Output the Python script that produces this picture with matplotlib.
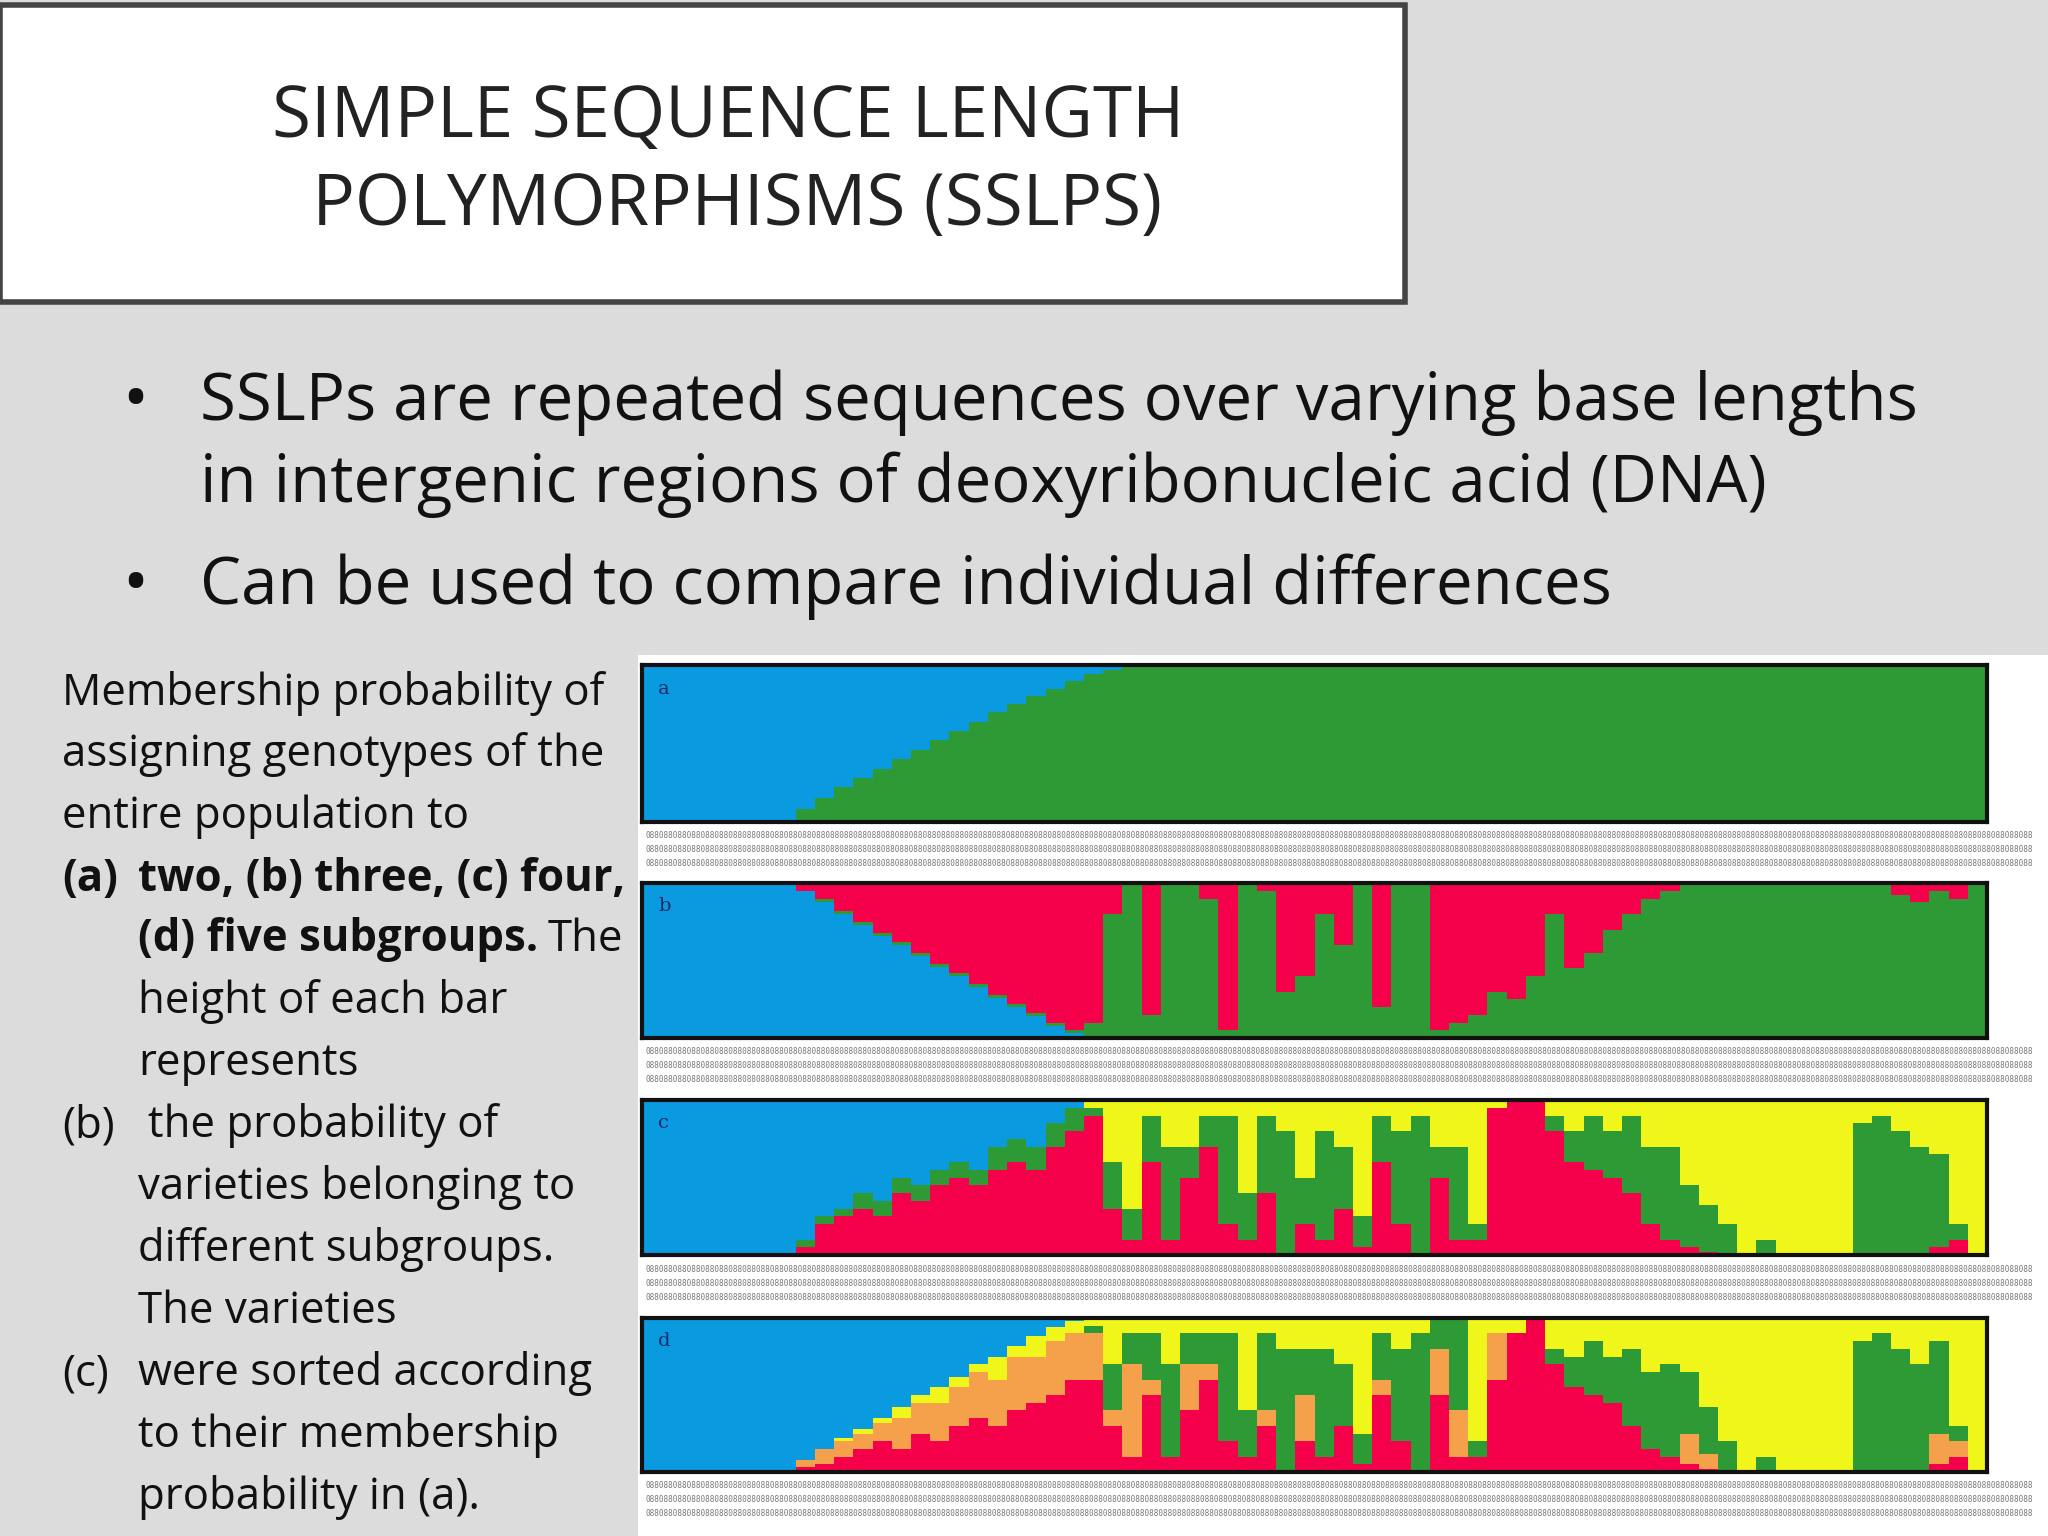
import matplotlib
matplotlib.use('Agg')
import matplotlib.pyplot as plt
from matplotlib.patches import Rectangle
import numpy as np

W, H = 2048, 1536
FONT = 'Open Sans'

# membership fractions per variety (70 sorted varieties)
a_blue = [1]*8 + [0.92, 0.85, 0.78, 0.72, 0.66, 0.6, 0.54, 0.48, 0.42, 0.36, 0.3, 0.25,
                  0.2, 0.15, 0.1, 0.06, 0.03, 0.01] + [0]*44

b_blue = [1]*8 + [0.95, 0.88, 0.8, 0.73, 0.66, 0.6, 0.53, 0.46, 0.4, 0.33, 0.26, 0.2,
                  0.14, 0.08, 0.03] + [0]*47
b_red = [0]*8 + [0.05, 0.1, 0.18, 0.25, 0.32, 0.38, 0.45, 0.52, 0.58, 0.65, 0.72, 0.78,
                 0.84, 0.9, 0.95] \
    + [0.9, 0.2, 0.0, 0.85, 0.0, 0.0, 0.1, 0.95, 0.0, 0.05, 0.7, 0.6, 0.2, 0.4, 0.0, 0.8,
       0.0, 0.0, 0.95, 0.9, 0.85, 0.7, 0.75, 0.6, 0.2] \
    + [0.55, 0.45, 0.3, 0.2, 0.1, 0.05, 0, 0, 0, 0, 0, 0, 0, 0, 0, 0, 0, 0.08, 0.12, 0.05, 0.1, 0]

c_blue = [1]*8 + [0.9, 0.75, 0.7, 0.6, 0.65, 0.5, 0.55, 0.45, 0.4, 0.45, 0.3, 0.25, 0.3,
                  0.15, 0.05] + [0]*47
c_red = [0]*8 + [0.05, 0.2, 0.25, 0.3, 0.25, 0.4, 0.35, 0.45, 0.5, 0.45, 0.55, 0.6, 0.55,
                 0.7, 0.8] \
    + [0.9, 0.3, 0.1, 0.6, 0.1, 0.5, 0.7, 0.2, 0.1, 0.4, 0.0, 0.2, 0.1, 0.3, 0.05, 0.6, 0.2,
       0.0, 0.5, 0.1, 0.1, 0.95, 1.0, 1.0, 0.8, 0.6, 0.55, 0.5, 0.4, 0.2, 0.1, 0.05,
       0.02, 0, 0, 0, 0, 0, 0, 0, 0, 0, 0, 0, 0.05, 0.1, 0]
c_green = [0]*8 + [0.05, 0.05, 0.05, 0.1, 0.1, 0.1, 0.1, 0.1, 0.1, 0.1, 0.15, 0.15, 0.15,
                   0.15, 0.15] \
    + [0.05, 0.3, 0.2, 0.3, 0.6, 0.2, 0.2, 0.7, 0.3, 0.5, 0.8, 0.3, 0.7, 0.4, 0.2, 0.3, 0.6,
       0.9, 0.2, 0.6, 0.1, 0.0, 0, 0, 0.1, 0.2, 0.35, 0.3, 0.5, 0.5, 0.6, 0.4,
       0.3, 0.2, 0, 0.1, 0, 0, 0, 0, 0.85, 0.9, 0.8, 0.7, 0.6, 0.1, 0.0]

d_blue = [1]*8 + [0.92, 0.85, 0.78, 0.72, 0.65, 0.58, 0.5, 0.45, 0.38, 0.3, 0.25, 0.18,
                  0.12, 0.06, 0.02] + [0]*47
d_red = [0]*8 + [0.03, 0.05, 0.1, 0.15, 0.2, 0.15, 0.25, 0.2, 0.3, 0.35, 0.3, 0.4, 0.45,
                 0.5, 0.6] \
    + [0.6, 0.3, 0.1, 0.5, 0.1, 0.4, 0.6, 0.2, 0.1, 0.3, 0.0, 0.2, 0.1, 0.3, 0.05, 0.5, 0.2,
       0.0, 0.5, 0.1, 0.1, 0.6, 0.9, 1.0, 0.7, 0.55, 0.5, 0.45, 0.3, 0.15, 0.1, 0.05,
       0.02, 0, 0, 0, 0, 0, 0, 0, 0, 0, 0, 0, 0.05, 0.1, 0]
d_orange = [0]*8 + [0.05, 0.1, 0.1, 0.1, 0.12, 0.2, 0.2, 0.25, 0.25, 0.3, 0.3, 0.35, 0.3,
                    0.35, 0.3] \
    + [0.3, 0.1, 0.6, 0.1, 0.0, 0.3, 0.1, 0, 0, 0.1, 0, 0.3, 0, 0, 0, 0.1, 0, 0, 0.3, 0.3, 0,
       0.3, 0, 0, 0, 0, 0, 0, 0, 0, 0, 0.2, 0.1, 0, 0, 0, 0, 0, 0, 0,
       0, 0, 0, 0, 0.2, 0.1, 0]
d_green = [0]*8 + [0.0]*15 + c_green[23:]

BLUE, GREEN, RED, YELLOW, ORANGE = '#0a9ae0', '#2e9a35', '#f5004a', '#f0f51a', '#f5a04a'


def rest(*parts):
    return list(np.clip(1 - np.sum(parts, axis=0), 0, 1))


panels = [
    ('a', [(rest(a_blue), GREEN), (a_blue, BLUE)], 665, 822),
    ('b', [(b_blue, BLUE), (rest(b_blue, b_red), GREEN), (b_red, RED)], 883, 1038),
    ('c', [(c_red, RED), (c_green, GREEN), (rest(c_red, c_green, c_blue), YELLOW), (c_blue, BLUE)], 1100, 1255),
    ('d', [(d_red, RED), (d_orange, ORANGE), (d_green, GREEN),
           (rest(d_red, d_orange, d_green, d_blue), YELLOW), (d_blue, BLUE)], 1318, 1472),
]


def px_axes(fig, x0, y0, x1, y1):
    return fig.add_axes([x0 / W, 1 - y1 / H, (x1 - x0) / W, (y1 - y0) / H])


def main():
    fig = plt.figure(figsize=(W / 100, H / 100), dpi=100, facecolor='#dcdcdc')

    # title box
    fig.patches.append(Rectangle((0, 1 - 302 / H), 1405 / W, 297 / H, transform=fig.transFigure,
                                 facecolor='white', edgecolor='#444444', linewidth=4, zorder=-1))
    for txt, y in [('SIMPLE SEQUENCE LENGTH', 118), (' POLYMORPHISMS (SSLPS)', 206)]:
        fig.text(728 / W, 1 - y / H, txt, ha='center', va='center', fontsize=51,
                 family=FONT, color='#222222')

    # bullets
    bullets = [('SSLPs are repeated sequences over varying base lengths', 403),
               ('in intergenic regions of deoxyribonucleic acid (DNA)', 485),
               ('Can be used to compare individual differences', 587)]
    for txt, y in bullets:
        fig.text(200 / W, 1 - y / H, txt, ha='left', va='center', fontsize=47,
                 family=FONT, color='#111111')
    for y in (403, 587):
        fig.text(135 / W, 1 - y / H, '•', ha='center', va='center', fontsize=50,
                 family=FONT, color='#111111')

    # caption on the left
    lines = [
        (62, 'Membership probability of', 'normal'),
        (62, 'assigning genotypes of the', 'normal'),
        (62, 'entire population to', 'normal'),
        (62, '(a)', 'bold'), (138, 'two, (b) three, (c) four,', 'bold'),
        (138, '(d) five subgroups.', 'bold'), (548, 'The', 'normal'),
        (138, 'height of each bar', 'normal'),
        (138, 'represents', 'normal'),
        (62, '(b)', 'normal'), (148, 'the probability of', 'normal'),
        (138, 'varieties belonging to', 'normal'),
        (138, 'different subgroups.', 'normal'),
        (138, 'The varieties', 'normal'),
        (62, '(c)', 'normal'), (138, 'were sorted according', 'normal'),
        (138, 'to their membership', 'normal'),
        (138, 'probability in (a).', 'normal'),
    ]
    row_y = [693, 755, 817, 879, 879, 940, 940, 1002, 1064, 1126, 1126, 1188, 1250, 1312,
             1374, 1374, 1436, 1497]
    for (x, txt, wt), y in zip(lines, row_y):
        fig.text(x / W, 1 - y / H, txt, ha='left', va='center', fontsize=31.5,
                 family=FONT, fontweight=wt, color='#111111')

    # white figure panel
    fig.patches.append(Rectangle((638 / W, 0), 1410 / W, 881 / H, transform=fig.transFigure,
                                 facecolor='white', edgecolor='none', zorder=-1))

    n = len(a_blue)
    idx = np.arange(n)
    strip = ''.join('8' if k % 3 else '0' for k in range(300))
    for letter, comps, y0, y1 in panels:
        ax = px_axes(fig, 642, y0, 1987, y1)
        bottom = np.zeros(n)
        for vals, col in comps:
            vals = np.array(vals, dtype=float)
            ax.bar(idx, vals, bottom=bottom, width=1.0, color=col, linewidth=0, align='edge')
            bottom += vals
        ax.set_xlim(0, n)
        ax.set_ylim(0, 1)
        ax.set_xticks([])
        ax.set_yticks([])
        for s in ax.spines.values():
            s.set_linewidth(3)
            s.set_color('#111111')
        ax.text(0.012, 0.85, letter, transform=ax.transAxes, fontsize=14, family='DejaVu Serif',
                color='#1a2a6a', va='center')
        # sample label strip
        for dy in (14, 28, 42):
            fig.text(645 / W, 1 - (y1 + dy) / H, strip, fontsize=5.5, family='DejaVu Sans Mono',
                     color='#777777', va='center', ha='left')

    plt.savefig('out.png', dpi=100, facecolor=fig.get_facecolor())


if __name__ == '__main__':
    main()
